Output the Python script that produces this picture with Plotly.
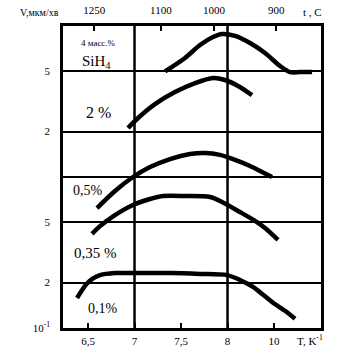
import plotly.graph_objects as go

# Data: x = 10^4/T (K^-1), V (мкм/хв), log scale
x_4 = [7.328, 7.543, 7.704, 7.844, 7.941, 8.081, 8.242, 8.403, 8.565, 8.672, 8.780, 8.909]
v_4 = [5.0, 6.14, 7.48, 8.45, 8.85, 8.59, 7.71, 6.62, 5.43, 4.95, 4.95, 4.95]

x_2 = [6.930, 7.038, 7.220, 7.435, 7.651, 7.844, 7.973, 8.113, 8.263]
v_2 = [2.11, 2.46, 3.04, 3.65, 4.19, 4.53, 4.39, 4.01, 3.49]

x_05 = [6.597, 6.790, 6.984, 7.167, 7.382, 7.597, 7.758, 7.919, 8.081, 8.242, 8.371, 8.478]
v_05 = [0.623, 0.808, 1.0, 1.164, 1.315, 1.419, 1.442, 1.400, 1.297, 1.183, 1.079, 1.0]

x_035 = [6.543, 6.629, 6.790, 6.984, 7.167, 7.306, 7.543, 7.812, 7.941, 8.134, 8.296, 8.403, 8.543]
v_035 = [0.420, 0.473, 0.560, 0.653, 0.715, 0.748, 0.748, 0.737, 0.683, 0.586, 0.512, 0.459, 0.383]

x_01 = [6.382, 6.435, 6.489, 6.554, 6.629, 6.790, 6.984, 7.382, 7.704, 7.995, 8.134, 8.274, 8.382, 8.489, 8.618, 8.726]
v_01 = [0.158, 0.178, 0.197, 0.213, 0.224, 0.231, 0.231, 0.231, 0.228, 0.224, 0.208, 0.187, 0.166, 0.147, 0.130, 0.115]

bottom_ticks = [6.5, 7, 7.5, 8, 8.5]
bottom_labels = ["6,5", "7", "7,5", "8", "10"]
top_t = [1250, 1100, 1000, 900]
top_labels = ["1250", "1100", "1000", "900"]
y_ticks = [0.1, 0.2, 0.5, 1, 2, 5, 10]
y_labels = ["10<sup>-1</sup>", "2", "5", "", "2", "5", ""]
v_grid_x = [7, 8]

curve_labels = ["4 масс.%", "SiH<sub>4</sub>", "2 %", "0,5%", "0,35 %", "0,1%"]

FONT = "Liberation Serif"
BLACK = "#000000"
W, H = 342, 350
L, R, T, B = 63, 321, 26, 328

fig = go.Figure()
for xs, vs in [(x_4, v_4), (x_2, v_2), (x_05, v_05), (x_035, v_035), (x_01, v_01)]:
    fig.add_trace(go.Scatter(x=xs, y=vs, mode="lines",
                             line=dict(color=BLACK, width=4.5, shape="spline", smoothing=0.8),
                             showlegend=False, hoverinfo="skip"))

top_pos = [1e4 / (t + 273) for t in top_t]
fig.add_trace(go.Scatter(x=top_pos, y=[1] * len(top_pos), xaxis="x2", mode="markers",
                         marker=dict(opacity=0), showlegend=False, hoverinfo="skip"))

xr = [6.231, 9.005]
tf = dict(size=11, family=FONT, color=BLACK)
fig.update_layout(
    width=W, height=H,
    margin=dict(l=L, r=W - R, t=T, b=H - B, autoexpand=False),
    paper_bgcolor="white", plot_bgcolor="white",
    font=dict(family=FONT, color=BLACK, size=11),
    xaxis=dict(range=xr, tickvals=bottom_ticks, ticktext=bottom_labels,
               ticks="inside", ticklen=5, tickwidth=2, tickcolor=BLACK,
               ticklabelstandoff=1, automargin=False,
               showgrid=False, zeroline=False, showline=True, linewidth=2.5,
               linecolor=BLACK, mirror=True, tickfont=tf, color=BLACK),
    xaxis2=dict(range=xr, overlaying="x", side="top", tickvals=top_pos,
                ticktext=top_labels, ticks="inside", ticklen=5, tickwidth=2,
                tickcolor=BLACK, showgrid=False, zeroline=False,
                ticklabelstandoff=9, automargin=False,
                showline=False, tickfont=tf, color=BLACK),
    yaxis=dict(type="log", range=[-1, 1], tickvals=y_ticks, ticktext=y_labels,
               showgrid=True, gridcolor=BLACK, gridwidth=2, ticks="",
               ticklabelstandoff=8, automargin=False,
               zeroline=False, showline=True, linewidth=2.5,
               linecolor=BLACK, mirror=True, tickfont=tf, color=BLACK),
)

for gx in v_grid_x:
    fig.add_shape(type="line", xref="x", yref="paper", x0=gx, x1=gx, y0=0, y1=1,
                  line=dict(color=BLACK, width=2.5))


def px2paper(px, py):
    return (px - L) / (R - L), (B - py) / (B - T)


text_specs = [
    (curve_labels[0], 98, 43, 9),
    (curve_labels[1], 96, 62, 15),
    (curve_labels[2], 98, 112, 16),
    (curve_labels[3], 88, 190, 14),
    (curve_labels[4], 95, 253, 15),
    (curve_labels[5], 103, 308, 14),
    ("V,мкм/хв", 39, 13, 10),
    ("t , C", 312, 12, 11),
    ("T, K<sup>-1</sup>", 310, 340, 11),
]
for txt, px, py, sz in text_specs:
    xp, yp = px2paper(px, py)
    fig.add_annotation(text=txt, x=xp, y=yp, xref="paper", yref="paper",
                       showarrow=False, font=dict(size=sz, family=FONT, color=BLACK),
                       xanchor="center", yanchor="middle")

fig.write_html("out.html")
